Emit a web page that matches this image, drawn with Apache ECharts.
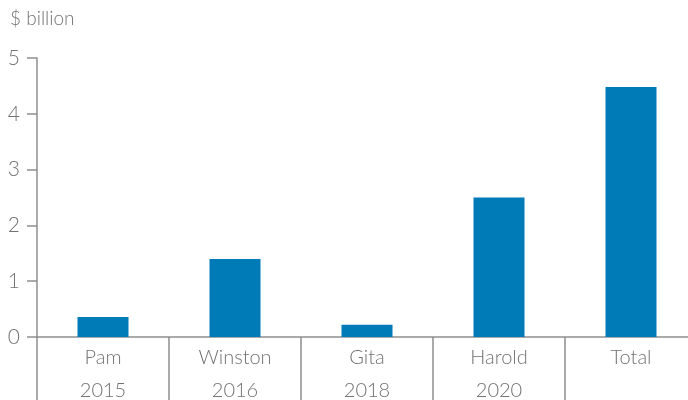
<!DOCTYPE html>
<html>
<head>
<meta charset="utf-8">
<script src="https://cdn.jsdelivr.net/npm/echarts@6/dist/echarts.min.js"></script>
<style>
  html, body { margin: 0; padding: 0; background: #fff; }
  #chart { width: 688px; height: 400px; }
</style>
</head>
<body>
<div id="chart"></div>
<script>
// cyclone names and years, one label per bar
var storms = ['Pam', 'Winston', 'Gita', 'Harold', 'Total'];
var years = ['2015', '2016', '2018', '2020', ''];
var damage = [0.36, 1.40, 0.22, 2.50, 4.48];
var yTicks = [0, 1, 2, 3, 4, 5];

var grey = '#8f8f8f';
var textGrey = '#727272';
var font = 'Lato, "Open Sans", sans-serif';

var categories = storms.map(function (s, i) {
	return years[i] ? s + '\n' + years[i] : s;
});

var chart = echarts.init(document.getElementById('chart'));

chart.setOption({
	animation: false,
	textStyle: { fontFamily: font },
	grid: {
		left: 37, top: 58, width: 660, height: 279,
		containLabel: false,
		outerBoundsMode: 'none'
	},
	graphic: [{
		type: 'text',
		left: 10,
		top: 9,
		style: { text: '$ billion', fontSize: 19, fill: textGrey, fontFamily: font, fontWeight: 300 }
	}],
	xAxis: {
		type: 'category',
		data: categories,
		boundaryGap: true,
		axisLine: { lineStyle: { color: grey, width: 1.5 } },
		axisTick: { show: true, length: 70, lineStyle: { color: grey, width: 1.5 } },
		axisLabel: {
			color: textGrey,
			fontSize: 20,
			fontWeight: 300,
			lineHeight: 33,
			margin: 4,
			verticalAlign: 'top',
			fontFamily: font
		}
	},
	yAxis: {
		type: 'value',
		min: yTicks[0],
		max: yTicks[yTicks.length - 1],
		interval: 1,
		splitLine: { show: false },
		axisLine: { show: true, lineStyle: { color: grey, width: 1.5 } },
		axisTick: { show: true, length: 10, lineStyle: { color: grey, width: 1.5 } },
		axisLabel: { color: textGrey, fontSize: 21, fontWeight: 300, margin: 17, fontFamily: font }
	},
	series: [{
		type: 'bar',
		data: damage,
		barWidth: 51,
		itemStyle: { color: '#007bb8' }
	}]
});
</script>
</body>
</html>
